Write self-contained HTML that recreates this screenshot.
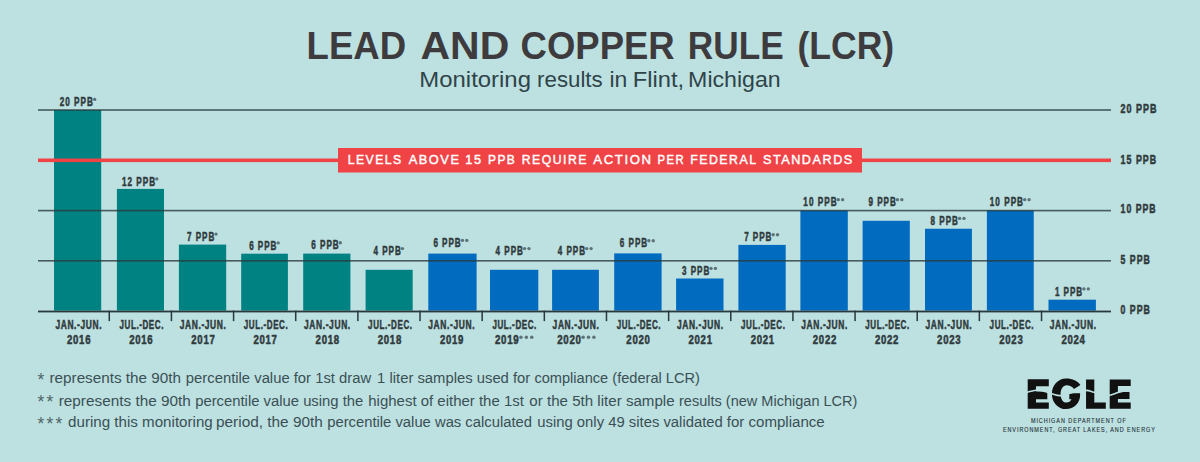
<!DOCTYPE html>
<html><head><meta charset="utf-8"><title>Lead and Copper Rule (LCR)</title>
<style>html,body{margin:0;padding:0;width:1200px;height:462px;overflow:hidden;background:#bde0e1;font-family:"Liberation Sans",sans-serif} svg{display:block}</style>
</head><body>
<svg width="1200" height="462" viewBox="0 0 1200 462">
<rect x="0" y="0" width="1200" height="462" fill="#bde0e1"/>
<rect x="54.00" y="110" width="47.20" height="200.60" fill="#008282"/>
<rect x="116.90" y="188.9" width="47.10" height="121.70" fill="#008282"/>
<rect x="178.90" y="244.6" width="47.30" height="66.00" fill="#008282"/>
<rect x="241.20" y="253.7" width="46.70" height="56.90" fill="#008282"/>
<rect x="303.20" y="253.6" width="47.20" height="57.00" fill="#008282"/>
<rect x="365.60" y="269.8" width="47.10" height="40.80" fill="#008282"/>
<rect x="428.30" y="253.6" width="48.30" height="57.00" fill="#006bbf"/>
<rect x="490.00" y="269.8" width="48.30" height="40.80" fill="#006bbf"/>
<rect x="552.10" y="269.8" width="46.80" height="40.80" fill="#006bbf"/>
<rect x="614.20" y="253.4" width="47.40" height="57.20" fill="#006bbf"/>
<rect x="676.10" y="278.5" width="47.40" height="32.10" fill="#006bbf"/>
<rect x="738.40" y="244.9" width="47.30" height="65.70" fill="#006bbf"/>
<rect x="800.40" y="210.4" width="47.40" height="100.20" fill="#006bbf"/>
<rect x="862.60" y="220.8" width="47.20" height="89.80" fill="#006bbf"/>
<rect x="925.00" y="228.75" width="46.90" height="81.85" fill="#006bbf"/>
<rect x="986.90" y="210.4" width="46.85" height="100.20" fill="#006bbf"/>
<rect x="1048.50" y="299.7" width="47.40" height="10.90" fill="#006bbf"/>
<rect x="38" y="109.20" width="1073" height="1.6" fill="#2a3a3c" fill-opacity="0.8"/>
<rect x="38" y="209.80" width="1073" height="1.6" fill="#2a3a3c" fill-opacity="0.8"/>
<rect x="38" y="260.00" width="1073" height="1.6" fill="#2a3a3c" fill-opacity="0.8"/>
<rect x="38" y="310.60" width="1073" height="1.8" fill="#2a3a3c"/>
<rect x="108.53" y="310.6" width="1.5" height="10.5" fill="#2a3a3c"/>
<rect x="170.68" y="310.6" width="1.5" height="10.5" fill="#2a3a3c"/>
<rect x="232.83" y="310.6" width="1.5" height="10.5" fill="#2a3a3c"/>
<rect x="294.97" y="310.6" width="1.5" height="10.5" fill="#2a3a3c"/>
<rect x="357.12" y="310.6" width="1.5" height="10.5" fill="#2a3a3c"/>
<rect x="419.27" y="310.6" width="1.5" height="10.5" fill="#2a3a3c"/>
<rect x="481.42" y="310.6" width="1.5" height="10.5" fill="#2a3a3c"/>
<rect x="543.58" y="310.6" width="1.5" height="10.5" fill="#2a3a3c"/>
<rect x="605.73" y="310.6" width="1.5" height="10.5" fill="#2a3a3c"/>
<rect x="667.88" y="310.6" width="1.5" height="10.5" fill="#2a3a3c"/>
<rect x="730.02" y="310.6" width="1.5" height="10.5" fill="#2a3a3c"/>
<rect x="792.17" y="310.6" width="1.5" height="10.5" fill="#2a3a3c"/>
<rect x="854.32" y="310.6" width="1.5" height="10.5" fill="#2a3a3c"/>
<rect x="916.47" y="310.6" width="1.5" height="10.5" fill="#2a3a3c"/>
<rect x="978.62" y="310.6" width="1.5" height="10.5" fill="#2a3a3c"/>
<rect x="1040.78" y="310.6" width="1.5" height="10.5" fill="#2a3a3c"/>
<rect x="38" y="158.5" width="1073" height="3.6" fill="#f04346"/>
<rect x="338" y="148" width="524" height="24.5" fill="#f04346"/>
<text x="306.55" y="58.9" textLength="99.63" lengthAdjust="spacingAndGlyphs" font-family="Liberation Sans" font-weight="bold" font-size="38.1" fill="#3e3b3e">LEAD</text>
<text x="420.45" y="58.9" textLength="88.79" lengthAdjust="spacingAndGlyphs" font-family="Liberation Sans" font-weight="bold" font-size="38.1" fill="#3e3b3e">AND</text>
<text x="520.61" y="58.9" textLength="154.05" lengthAdjust="spacingAndGlyphs" font-family="Liberation Sans" font-weight="bold" font-size="38.1" fill="#3e3b3e">COPPER</text>
<text x="687.86" y="58.9" textLength="95.91" lengthAdjust="spacingAndGlyphs" font-family="Liberation Sans" font-weight="bold" font-size="38.1" fill="#3e3b3e">RULE</text>
<text x="797.48" y="58.9" textLength="96.68" lengthAdjust="spacingAndGlyphs" font-family="Liberation Sans" font-weight="bold" font-size="38.1" fill="#3e3b3e">(LCR)</text>
<text x="419.38" y="86.6" textLength="111.58" lengthAdjust="spacingAndGlyphs" font-family="Liberation Sans" font-size="22" fill="#2f4448">Monitoring</text>
<text x="537.13" y="86.6" textLength="65.52" lengthAdjust="spacingAndGlyphs" font-family="Liberation Sans" font-size="22" fill="#2f4448">results</text>
<text x="609.47" y="86.6" textLength="17.87" lengthAdjust="spacingAndGlyphs" font-family="Liberation Sans" font-size="22" fill="#2f4448">in</text>
<text x="632.76" y="86.6" textLength="51.42" lengthAdjust="spacingAndGlyphs" font-family="Liberation Sans" font-size="22" fill="#2f4448">Flint,</text>
<text x="688.14" y="86.6" textLength="92.61" lengthAdjust="spacingAndGlyphs" font-family="Liberation Sans" font-size="22" fill="#2f4448">Michigan</text>
<text x="347.64" y="164.3" textLength="55.09" lengthAdjust="spacingAndGlyphs" font-family="Liberation Sans" font-size="13.2" letter-spacing="1.6" fill="#fff" stroke="#fff" stroke-width="0.45">LEVELS</text>
<text x="408.63" y="164.3" textLength="51.89" lengthAdjust="spacingAndGlyphs" font-family="Liberation Sans" font-size="13.2" letter-spacing="1.6" fill="#fff" stroke="#fff" stroke-width="0.45">ABOVE</text>
<text x="465.30" y="164.3" textLength="17.19" lengthAdjust="spacingAndGlyphs" font-family="Liberation Sans" font-size="13.2" letter-spacing="1.6" fill="#fff" stroke="#fff" stroke-width="0.45">15</text>
<text x="487.96" y="164.3" textLength="28.29" lengthAdjust="spacingAndGlyphs" font-family="Liberation Sans" font-size="13.2" letter-spacing="1.6" fill="#fff" stroke="#fff" stroke-width="0.45">PPB</text>
<text x="521.75" y="164.3" textLength="66.11" lengthAdjust="spacingAndGlyphs" font-family="Liberation Sans" font-size="13.2" letter-spacing="1.6" fill="#fff" stroke="#fff" stroke-width="0.45">REQUIRE</text>
<text x="593.33" y="164.3" textLength="59.26" lengthAdjust="spacingAndGlyphs" font-family="Liberation Sans" font-size="13.2" letter-spacing="1.6" fill="#fff" stroke="#fff" stroke-width="0.45">ACTION</text>
<text x="657.58" y="164.3" textLength="27.38" lengthAdjust="spacingAndGlyphs" font-family="Liberation Sans" font-size="13.2" letter-spacing="1.6" fill="#fff" stroke="#fff" stroke-width="0.45">PER</text>
<text x="690.27" y="164.3" textLength="67.21" lengthAdjust="spacingAndGlyphs" font-family="Liberation Sans" font-size="13.2" letter-spacing="1.6" fill="#fff" stroke="#fff" stroke-width="0.45">FEDERAL</text>
<text x="762.93" y="164.3" textLength="90.91" lengthAdjust="spacingAndGlyphs" font-family="Liberation Sans" font-size="13.2" letter-spacing="1.6" fill="#fff" stroke="#fff" stroke-width="0.45">STANDARDS</text>
<text x="1120.60" y="113.30" text-anchor="start" textLength="37.00" lengthAdjust="spacingAndGlyphs" letter-spacing="1.5" font-family="Liberation Sans" font-weight="bold" font-size="13.2" fill="#2f3a3c" stroke="#2f3a3c" stroke-width="0.55">20 PPB</text>
<text x="1120.60" y="163.60" text-anchor="start" textLength="36.50" lengthAdjust="spacingAndGlyphs" letter-spacing="1.5" font-family="Liberation Sans" font-weight="bold" font-size="13.2" fill="#2f3a3c" stroke="#2f3a3c" stroke-width="0.55">15 PPB</text>
<text x="1120.60" y="213.40" text-anchor="start" textLength="36.00" lengthAdjust="spacingAndGlyphs" letter-spacing="1.5" font-family="Liberation Sans" font-weight="bold" font-size="13.2" fill="#2f3a3c" stroke="#2f3a3c" stroke-width="0.55">10 PPB</text>
<text x="1120.60" y="264.40" text-anchor="start" textLength="30.20" lengthAdjust="spacingAndGlyphs" letter-spacing="1.5" font-family="Liberation Sans" font-weight="bold" font-size="13.2" fill="#2f3a3c" stroke="#2f3a3c" stroke-width="0.55">5 PPB</text>
<text x="1120.60" y="314.40" text-anchor="start" textLength="30.20" lengthAdjust="spacingAndGlyphs" letter-spacing="1.5" font-family="Liberation Sans" font-weight="bold" font-size="13.2" fill="#2f3a3c" stroke="#2f3a3c" stroke-width="0.55">0 PPB</text>
<text x="59.75" y="106.00" text-anchor="start" textLength="34.20" lengthAdjust="spacingAndGlyphs" letter-spacing="1.5" font-family="Liberation Sans" font-weight="bold" font-size="12.2" fill="#2f3a3c" stroke="#2f3a3c" stroke-width="0.5">20 PPB</text>
<circle cx="94.65" cy="99.40" r="1.70" fill="#5d7375"/>
<text x="121.90" y="185.50" text-anchor="start" textLength="34.20" lengthAdjust="spacingAndGlyphs" letter-spacing="1.5" font-family="Liberation Sans" font-weight="bold" font-size="12.2" fill="#2f3a3c" stroke="#2f3a3c" stroke-width="0.5">12 PPB</text>
<circle cx="156.80" cy="178.90" r="1.70" fill="#5d7375"/>
<text x="187.00" y="240.70" text-anchor="start" textLength="28.30" lengthAdjust="spacingAndGlyphs" letter-spacing="1.5" font-family="Liberation Sans" font-weight="bold" font-size="12.2" fill="#2f3a3c" stroke="#2f3a3c" stroke-width="0.5">7 PPB</text>
<circle cx="216.00" cy="234.10" r="1.70" fill="#5d7375"/>
<text x="249.15" y="249.50" text-anchor="start" textLength="28.30" lengthAdjust="spacingAndGlyphs" letter-spacing="1.5" font-family="Liberation Sans" font-weight="bold" font-size="12.2" fill="#2f3a3c" stroke="#2f3a3c" stroke-width="0.5">6 PPB</text>
<circle cx="278.15" cy="242.90" r="1.70" fill="#5d7375"/>
<text x="311.30" y="249.30" text-anchor="start" textLength="28.30" lengthAdjust="spacingAndGlyphs" letter-spacing="1.5" font-family="Liberation Sans" font-weight="bold" font-size="12.2" fill="#2f3a3c" stroke="#2f3a3c" stroke-width="0.5">6 PPB</text>
<circle cx="340.30" cy="242.70" r="1.70" fill="#5d7375"/>
<text x="373.45" y="255.20" text-anchor="start" textLength="28.30" lengthAdjust="spacingAndGlyphs" letter-spacing="1.5" font-family="Liberation Sans" font-weight="bold" font-size="12.2" fill="#2f3a3c" stroke="#2f3a3c" stroke-width="0.5">4 PPB</text>
<circle cx="402.45" cy="248.60" r="1.70" fill="#5d7375"/>
<text x="433.40" y="247.00" text-anchor="start" textLength="28.30" lengthAdjust="spacingAndGlyphs" letter-spacing="1.5" font-family="Liberation Sans" font-weight="bold" font-size="12.2" fill="#2f3a3c" stroke="#2f3a3c" stroke-width="0.5">6 PPB</text>
<circle cx="462.40" cy="240.40" r="1.70" fill="#5d7375"/><circle cx="466.80" cy="240.40" r="1.70" fill="#5d7375"/>
<text x="495.55" y="255.20" text-anchor="start" textLength="28.30" lengthAdjust="spacingAndGlyphs" letter-spacing="1.5" font-family="Liberation Sans" font-weight="bold" font-size="12.2" fill="#2f3a3c" stroke="#2f3a3c" stroke-width="0.5">4 PPB</text>
<circle cx="524.55" cy="248.60" r="1.70" fill="#5d7375"/><circle cx="528.95" cy="248.60" r="1.70" fill="#5d7375"/>
<text x="557.70" y="255.20" text-anchor="start" textLength="28.30" lengthAdjust="spacingAndGlyphs" letter-spacing="1.5" font-family="Liberation Sans" font-weight="bold" font-size="12.2" fill="#2f3a3c" stroke="#2f3a3c" stroke-width="0.5">4 PPB</text>
<circle cx="586.70" cy="248.60" r="1.70" fill="#5d7375"/><circle cx="591.10" cy="248.60" r="1.70" fill="#5d7375"/>
<text x="619.85" y="247.40" text-anchor="start" textLength="28.30" lengthAdjust="spacingAndGlyphs" letter-spacing="1.5" font-family="Liberation Sans" font-weight="bold" font-size="12.2" fill="#2f3a3c" stroke="#2f3a3c" stroke-width="0.5">6 PPB</text>
<circle cx="648.85" cy="240.80" r="1.70" fill="#5d7375"/><circle cx="653.25" cy="240.80" r="1.70" fill="#5d7375"/>
<text x="682.00" y="275.00" text-anchor="start" textLength="28.30" lengthAdjust="spacingAndGlyphs" letter-spacing="1.5" font-family="Liberation Sans" font-weight="bold" font-size="12.2" fill="#2f3a3c" stroke="#2f3a3c" stroke-width="0.5">3 PPB</text>
<circle cx="711.00" cy="268.40" r="1.70" fill="#5d7375"/><circle cx="715.40" cy="268.40" r="1.70" fill="#5d7375"/>
<text x="744.15" y="241.40" text-anchor="start" textLength="28.30" lengthAdjust="spacingAndGlyphs" letter-spacing="1.5" font-family="Liberation Sans" font-weight="bold" font-size="12.2" fill="#2f3a3c" stroke="#2f3a3c" stroke-width="0.5">7 PPB</text>
<circle cx="773.15" cy="234.80" r="1.70" fill="#5d7375"/><circle cx="777.55" cy="234.80" r="1.70" fill="#5d7375"/>
<text x="803.35" y="206.25" text-anchor="start" textLength="34.20" lengthAdjust="spacingAndGlyphs" letter-spacing="1.5" font-family="Liberation Sans" font-weight="bold" font-size="12.2" fill="#2f3a3c" stroke="#2f3a3c" stroke-width="0.5">10 PPB</text>
<circle cx="838.25" cy="199.65" r="1.70" fill="#5d7375"/><circle cx="842.65" cy="199.65" r="1.70" fill="#5d7375"/>
<text x="868.45" y="206.25" text-anchor="start" textLength="28.30" lengthAdjust="spacingAndGlyphs" letter-spacing="1.5" font-family="Liberation Sans" font-weight="bold" font-size="12.2" fill="#2f3a3c" stroke="#2f3a3c" stroke-width="0.5">9 PPB</text>
<circle cx="897.45" cy="199.65" r="1.70" fill="#5d7375"/><circle cx="901.85" cy="199.65" r="1.70" fill="#5d7375"/>
<text x="930.60" y="225.00" text-anchor="start" textLength="28.30" lengthAdjust="spacingAndGlyphs" letter-spacing="1.5" font-family="Liberation Sans" font-weight="bold" font-size="12.2" fill="#2f3a3c" stroke="#2f3a3c" stroke-width="0.5">8 PPB</text>
<circle cx="959.60" cy="218.40" r="1.70" fill="#5d7375"/><circle cx="964.00" cy="218.40" r="1.70" fill="#5d7375"/>
<text x="989.80" y="206.25" text-anchor="start" textLength="34.20" lengthAdjust="spacingAndGlyphs" letter-spacing="1.5" font-family="Liberation Sans" font-weight="bold" font-size="12.2" fill="#2f3a3c" stroke="#2f3a3c" stroke-width="0.5">10 PPB</text>
<circle cx="1024.70" cy="199.65" r="1.70" fill="#5d7375"/><circle cx="1029.10" cy="199.65" r="1.70" fill="#5d7375"/>
<text x="1054.90" y="295.50" text-anchor="start" textLength="28.30" lengthAdjust="spacingAndGlyphs" letter-spacing="1.5" font-family="Liberation Sans" font-weight="bold" font-size="12.2" fill="#2f3a3c" stroke="#2f3a3c" stroke-width="0.5">1 PPB</text>
<circle cx="1083.90" cy="288.90" r="1.70" fill="#5d7375"/><circle cx="1088.30" cy="288.90" r="1.70" fill="#5d7375"/>
<text x="78.80" y="328.90" text-anchor="middle" textLength="46.80" lengthAdjust="spacingAndGlyphs" letter-spacing="0.9" font-family="Liberation Sans" font-weight="bold" font-size="12.1" fill="#2f3a3c" stroke="#2f3a3c" stroke-width="0.5">JAN.-JUN.</text>
<text x="79.10" y="343.50" text-anchor="middle" textLength="24.20" lengthAdjust="spacingAndGlyphs" letter-spacing="0.9" font-family="Liberation Sans" font-weight="bold" font-size="12.1" fill="#2f3a3c" stroke="#2f3a3c" stroke-width="0.5">2016</text>
<text x="141.75" y="328.90" text-anchor="middle" textLength="44.50" lengthAdjust="spacingAndGlyphs" letter-spacing="0.9" font-family="Liberation Sans" font-weight="bold" font-size="12.1" fill="#2f3a3c" stroke="#2f3a3c" stroke-width="0.5">JUL.-DEC.</text>
<text x="141.25" y="343.50" text-anchor="middle" textLength="24.20" lengthAdjust="spacingAndGlyphs" letter-spacing="0.9" font-family="Liberation Sans" font-weight="bold" font-size="12.1" fill="#2f3a3c" stroke="#2f3a3c" stroke-width="0.5">2016</text>
<text x="203.10" y="328.90" text-anchor="middle" textLength="46.80" lengthAdjust="spacingAndGlyphs" letter-spacing="0.9" font-family="Liberation Sans" font-weight="bold" font-size="12.1" fill="#2f3a3c" stroke="#2f3a3c" stroke-width="0.5">JAN.-JUN.</text>
<text x="203.40" y="343.50" text-anchor="middle" textLength="24.20" lengthAdjust="spacingAndGlyphs" letter-spacing="0.9" font-family="Liberation Sans" font-weight="bold" font-size="12.1" fill="#2f3a3c" stroke="#2f3a3c" stroke-width="0.5">2017</text>
<text x="266.05" y="328.90" text-anchor="middle" textLength="44.50" lengthAdjust="spacingAndGlyphs" letter-spacing="0.9" font-family="Liberation Sans" font-weight="bold" font-size="12.1" fill="#2f3a3c" stroke="#2f3a3c" stroke-width="0.5">JUL.-DEC.</text>
<text x="265.55" y="343.50" text-anchor="middle" textLength="24.20" lengthAdjust="spacingAndGlyphs" letter-spacing="0.9" font-family="Liberation Sans" font-weight="bold" font-size="12.1" fill="#2f3a3c" stroke="#2f3a3c" stroke-width="0.5">2017</text>
<text x="327.40" y="328.90" text-anchor="middle" textLength="46.80" lengthAdjust="spacingAndGlyphs" letter-spacing="0.9" font-family="Liberation Sans" font-weight="bold" font-size="12.1" fill="#2f3a3c" stroke="#2f3a3c" stroke-width="0.5">JAN.-JUN.</text>
<text x="327.70" y="343.50" text-anchor="middle" textLength="24.20" lengthAdjust="spacingAndGlyphs" letter-spacing="0.9" font-family="Liberation Sans" font-weight="bold" font-size="12.1" fill="#2f3a3c" stroke="#2f3a3c" stroke-width="0.5">2018</text>
<text x="390.35" y="328.90" text-anchor="middle" textLength="44.50" lengthAdjust="spacingAndGlyphs" letter-spacing="0.9" font-family="Liberation Sans" font-weight="bold" font-size="12.1" fill="#2f3a3c" stroke="#2f3a3c" stroke-width="0.5">JUL.-DEC.</text>
<text x="389.85" y="343.50" text-anchor="middle" textLength="24.20" lengthAdjust="spacingAndGlyphs" letter-spacing="0.9" font-family="Liberation Sans" font-weight="bold" font-size="12.1" fill="#2f3a3c" stroke="#2f3a3c" stroke-width="0.5">2018</text>
<text x="451.70" y="328.90" text-anchor="middle" textLength="46.80" lengthAdjust="spacingAndGlyphs" letter-spacing="0.9" font-family="Liberation Sans" font-weight="bold" font-size="12.1" fill="#2f3a3c" stroke="#2f3a3c" stroke-width="0.5">JAN.-JUN.</text>
<text x="452.00" y="343.50" text-anchor="middle" textLength="24.20" lengthAdjust="spacingAndGlyphs" letter-spacing="0.9" font-family="Liberation Sans" font-weight="bold" font-size="12.1" fill="#2f3a3c" stroke="#2f3a3c" stroke-width="0.5">2019</text>
<text x="514.65" y="328.90" text-anchor="middle" textLength="44.50" lengthAdjust="spacingAndGlyphs" letter-spacing="0.9" font-family="Liberation Sans" font-weight="bold" font-size="12.1" fill="#2f3a3c" stroke="#2f3a3c" stroke-width="0.5">JUL.-DEC.</text>
<text x="495.00" y="343.50" text-anchor="start" textLength="24.50" lengthAdjust="spacingAndGlyphs" letter-spacing="0.9" font-family="Liberation Sans" font-weight="bold" font-size="12.1" fill="#2f3a3c" stroke="#2f3a3c" stroke-width="0.5">2019</text>
<circle cx="520.95" cy="337.20" r="1.75" fill="#5d7375"/><circle cx="526.35" cy="337.20" r="1.75" fill="#5d7375"/><circle cx="531.75" cy="337.20" r="1.75" fill="#5d7375"/>
<text x="576.00" y="328.90" text-anchor="middle" textLength="46.80" lengthAdjust="spacingAndGlyphs" letter-spacing="0.9" font-family="Liberation Sans" font-weight="bold" font-size="12.1" fill="#2f3a3c" stroke="#2f3a3c" stroke-width="0.5">JAN.-JUN.</text>
<text x="557.15" y="343.50" text-anchor="start" textLength="24.50" lengthAdjust="spacingAndGlyphs" letter-spacing="0.9" font-family="Liberation Sans" font-weight="bold" font-size="12.1" fill="#2f3a3c" stroke="#2f3a3c" stroke-width="0.5">2020</text>
<circle cx="583.10" cy="337.20" r="1.75" fill="#5d7375"/><circle cx="588.50" cy="337.20" r="1.75" fill="#5d7375"/><circle cx="593.90" cy="337.20" r="1.75" fill="#5d7375"/>
<text x="638.95" y="328.90" text-anchor="middle" textLength="44.50" lengthAdjust="spacingAndGlyphs" letter-spacing="0.9" font-family="Liberation Sans" font-weight="bold" font-size="12.1" fill="#2f3a3c" stroke="#2f3a3c" stroke-width="0.5">JUL.-DEC.</text>
<text x="638.45" y="343.50" text-anchor="middle" textLength="24.20" lengthAdjust="spacingAndGlyphs" letter-spacing="0.9" font-family="Liberation Sans" font-weight="bold" font-size="12.1" fill="#2f3a3c" stroke="#2f3a3c" stroke-width="0.5">2020</text>
<text x="700.30" y="328.90" text-anchor="middle" textLength="46.80" lengthAdjust="spacingAndGlyphs" letter-spacing="0.9" font-family="Liberation Sans" font-weight="bold" font-size="12.1" fill="#2f3a3c" stroke="#2f3a3c" stroke-width="0.5">JAN.-JUN.</text>
<text x="700.60" y="343.50" text-anchor="middle" textLength="24.20" lengthAdjust="spacingAndGlyphs" letter-spacing="0.9" font-family="Liberation Sans" font-weight="bold" font-size="12.1" fill="#2f3a3c" stroke="#2f3a3c" stroke-width="0.5">2021</text>
<text x="763.25" y="328.90" text-anchor="middle" textLength="44.50" lengthAdjust="spacingAndGlyphs" letter-spacing="0.9" font-family="Liberation Sans" font-weight="bold" font-size="12.1" fill="#2f3a3c" stroke="#2f3a3c" stroke-width="0.5">JUL.-DEC.</text>
<text x="762.75" y="343.50" text-anchor="middle" textLength="24.20" lengthAdjust="spacingAndGlyphs" letter-spacing="0.9" font-family="Liberation Sans" font-weight="bold" font-size="12.1" fill="#2f3a3c" stroke="#2f3a3c" stroke-width="0.5">2021</text>
<text x="824.60" y="328.90" text-anchor="middle" textLength="46.80" lengthAdjust="spacingAndGlyphs" letter-spacing="0.9" font-family="Liberation Sans" font-weight="bold" font-size="12.1" fill="#2f3a3c" stroke="#2f3a3c" stroke-width="0.5">JAN.-JUN.</text>
<text x="824.90" y="343.50" text-anchor="middle" textLength="24.20" lengthAdjust="spacingAndGlyphs" letter-spacing="0.9" font-family="Liberation Sans" font-weight="bold" font-size="12.1" fill="#2f3a3c" stroke="#2f3a3c" stroke-width="0.5">2022</text>
<text x="887.55" y="328.90" text-anchor="middle" textLength="44.50" lengthAdjust="spacingAndGlyphs" letter-spacing="0.9" font-family="Liberation Sans" font-weight="bold" font-size="12.1" fill="#2f3a3c" stroke="#2f3a3c" stroke-width="0.5">JUL.-DEC.</text>
<text x="887.05" y="343.50" text-anchor="middle" textLength="24.20" lengthAdjust="spacingAndGlyphs" letter-spacing="0.9" font-family="Liberation Sans" font-weight="bold" font-size="12.1" fill="#2f3a3c" stroke="#2f3a3c" stroke-width="0.5">2022</text>
<text x="948.90" y="328.90" text-anchor="middle" textLength="46.80" lengthAdjust="spacingAndGlyphs" letter-spacing="0.9" font-family="Liberation Sans" font-weight="bold" font-size="12.1" fill="#2f3a3c" stroke="#2f3a3c" stroke-width="0.5">JAN.-JUN.</text>
<text x="949.20" y="343.50" text-anchor="middle" textLength="24.20" lengthAdjust="spacingAndGlyphs" letter-spacing="0.9" font-family="Liberation Sans" font-weight="bold" font-size="12.1" fill="#2f3a3c" stroke="#2f3a3c" stroke-width="0.5">2023</text>
<text x="1011.85" y="328.90" text-anchor="middle" textLength="44.50" lengthAdjust="spacingAndGlyphs" letter-spacing="0.9" font-family="Liberation Sans" font-weight="bold" font-size="12.1" fill="#2f3a3c" stroke="#2f3a3c" stroke-width="0.5">JUL.-DEC.</text>
<text x="1011.35" y="343.50" text-anchor="middle" textLength="24.20" lengthAdjust="spacingAndGlyphs" letter-spacing="0.9" font-family="Liberation Sans" font-weight="bold" font-size="12.1" fill="#2f3a3c" stroke="#2f3a3c" stroke-width="0.5">2023</text>
<text x="1073.20" y="328.90" text-anchor="middle" textLength="46.80" lengthAdjust="spacingAndGlyphs" letter-spacing="0.9" font-family="Liberation Sans" font-weight="bold" font-size="12.1" fill="#2f3a3c" stroke="#2f3a3c" stroke-width="0.5">JAN.-JUN.</text>
<text x="1073.50" y="343.50" text-anchor="middle" textLength="24.20" lengthAdjust="spacingAndGlyphs" letter-spacing="0.9" font-family="Liberation Sans" font-weight="bold" font-size="12.1" fill="#2f3a3c" stroke="#2f3a3c" stroke-width="0.5">2024</text>
<text x="37.60" y="385.80" font-family="Liberation Sans" font-size="17.5" fill="#4f6568">*</text>
<text x="49.50" y="383.2" textLength="131.50" lengthAdjust="spacingAndGlyphs" font-family="Liberation Sans" font-size="15.2" fill="#3a5054">represents the 90th</text>
<text x="185.87" y="383.2" textLength="185.31" lengthAdjust="spacingAndGlyphs" font-family="Liberation Sans" font-size="15.2" fill="#3a5054">percentile value for 1st draw</text>
<text x="377.10" y="383.2" textLength="153.18" lengthAdjust="spacingAndGlyphs" font-family="Liberation Sans" font-size="15.2" fill="#3a5054">1 liter samples used for</text>
<text x="534.39" y="383.2" textLength="165.54" lengthAdjust="spacingAndGlyphs" font-family="Liberation Sans" font-size="15.2" fill="#3a5054">compliance (federal LCR)</text>
<text x="37.60" y="408.10" font-family="Liberation Sans" font-size="17.5" fill="#4f6568">*</text>
<text x="46.60" y="408.10" font-family="Liberation Sans" font-size="17.5" fill="#4f6568">*</text>
<text x="58.70" y="405.5" textLength="132.13" lengthAdjust="spacingAndGlyphs" font-family="Liberation Sans" font-size="15.2" fill="#3a5054">represents the 90th</text>
<text x="195.18" y="405.5" textLength="168.13" lengthAdjust="spacingAndGlyphs" font-family="Liberation Sans" font-size="15.2" fill="#3a5054">percentile value using the</text>
<text x="368.30" y="405.5" textLength="155.58" lengthAdjust="spacingAndGlyphs" font-family="Liberation Sans" font-size="15.2" fill="#3a5054">highest of either the 1st</text>
<text x="529.33" y="405.5" textLength="145.29" lengthAdjust="spacingAndGlyphs" font-family="Liberation Sans" font-size="15.2" fill="#3a5054">or the 5th liter sample</text>
<text x="679.04" y="405.5" textLength="178.40" lengthAdjust="spacingAndGlyphs" font-family="Liberation Sans" font-size="15.2" fill="#3a5054">results (new Michigan LCR)</text>
<text x="37.60" y="429.60" font-family="Liberation Sans" font-size="17.5" fill="#4f6568">*</text>
<text x="46.60" y="429.60" font-family="Liberation Sans" font-size="17.5" fill="#4f6568">*</text>
<text x="55.60" y="429.60" font-family="Liberation Sans" font-size="17.5" fill="#4f6568">*</text>
<text x="68.07" y="427.0" textLength="144.70" lengthAdjust="spacingAndGlyphs" font-family="Liberation Sans" font-size="15.2" fill="#3a5054">during this monitoring</text>
<text x="216.03" y="427.0" textLength="106.84" lengthAdjust="spacingAndGlyphs" font-family="Liberation Sans" font-size="15.2" fill="#3a5054">period, the 90th</text>
<text x="327.19" y="427.0" textLength="204.82" lengthAdjust="spacingAndGlyphs" font-family="Liberation Sans" font-size="15.2" fill="#3a5054">percentile value was calculated</text>
<text x="537.24" y="427.0" textLength="185.62" lengthAdjust="spacingAndGlyphs" font-family="Liberation Sans" font-size="15.2" fill="#3a5054">using only 49 sites validated</text>
<text x="726.75" y="427.0" textLength="97.97" lengthAdjust="spacingAndGlyphs" font-family="Liberation Sans" font-size="15.2" fill="#3a5054">for compliance</text>
<g fill="#111"><path d="M1027.7,379.2 H1048.8 V386.3 H1036 V391.6 H1047.3 V399.2 H1036 V402.5 H1048.8 V408.7 H1027.7 Z"/><path d="M1080.4,385.0 C1077.8,381.2 1072.6,378.6 1065.9,378.6 C1058,378.6 1051.9,385.5 1051.9,393.9 C1051.9,402.3 1058,409.1 1065.9,409.1 C1074.2,409.1 1080.1,403 1080.1,395 L1080.1,393.3 L1069.3,393.3 L1069.3,399.3 L1071.6,399.3 C1070.6,401.3 1068.7,402.6 1066.4,402.6 C1062.8,402.6 1060.6,398.7 1060.6,393.9 C1060.6,389.1 1063.1,385.3 1066.6,385.3 C1069.6,385.3 1072.2,386.6 1074.0,388.9 Z"/><path d="M1086.05,379.5 H1094.3 V402.5 H1105.8 V408.7 H1086.05 Z"/><path d="M1109.7,379.5 H1130.7 V386.1 H1117.9 V392 H1129.5 V399 H1117.9 V402.5 H1130.7 V408.7 H1109.7 Z"/></g>
<path d="M1024,393.2 C1026.00,392.72 1032.50,390.60 1036,390.3 C1039.50,390.00 1042.33,390.82 1045,391.4 C1047.67,391.98 1049.33,393.10 1052,393.8 C1054.67,394.50 1057.17,395.97 1061,395.6 C1064.83,395.23 1070.83,392.47 1075,391.6 C1079.17,390.73 1082.78,390.28 1086,390.4 C1089.22,390.52 1091.63,391.60 1094.3,392.3 C1096.97,393.00 1099.43,394.10 1102,394.6 C1104.57,395.10 1107.05,395.65 1109.7,395.3 C1112.35,394.95 1115.18,393.28 1117.9,392.5 C1120.62,391.72 1123.32,391.08 1126,390.6 C1128.68,390.12 1132.67,389.77 1134,389.6" fill="none" stroke="#bde0e1" stroke-width="1.6"/>
<text x="1030.90" y="423.30" text-anchor="start" textLength="95.80" lengthAdjust="spacingAndGlyphs" letter-spacing="1.1" font-family="Liberation Sans" font-weight="normal" font-size="6.3" fill="#1f3236" stroke="#1f3236" stroke-width="0.12">MICHIGAN DEPARTMENT OF</text>
<text x="1002.90" y="431.70" text-anchor="start" textLength="152.90" lengthAdjust="spacingAndGlyphs" letter-spacing="1.1" font-family="Liberation Sans" font-weight="normal" font-size="6.3" fill="#1f3236" stroke="#1f3236" stroke-width="0.12">ENVIRONMENT, GREAT LAKES, AND ENERGY</text>
</svg>
</body></html>
